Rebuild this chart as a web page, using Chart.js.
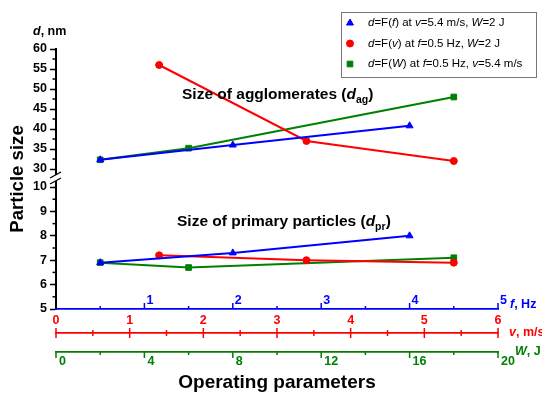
<!DOCTYPE html>
<html>
<head>
<meta charset="utf-8">
<script src="https://cdn.jsdelivr.net/npm/chart.js@4.4.0/dist/chart.umd.min.js"></script>
<style>
  html, body { margin: 0; padding: 0; background: #fff; }
  #wrap { width: 542px; height: 394px; }
</style>
</head>
<body>
<div id="wrap"><canvas id="chart" width="542" height="394"></canvas></div>
<script>
// Particle size (agglomerates / primary particles) vs operating parameters f, v, W

// blue: d = F(f) at v = 5.4 m/s, W = 2 J
const fValues = [0.5, 2, 4];
const dAgF = [32.3, 36, 40.8];
const dPrF = [6.9, 7.3, 8.0];

// red: d = F(v) at f = 0.5 Hz, W = 2 J
const vValues = [1.4, 3.4, 5.4];
const dAgV = [56, 37, 32];
const dPrV = [7.2, 7.0, 6.9];

// green: d = F(W) at f = 0.5 Hz, v = 5.4 m/s
const wValues = [2, 6, 18];
const dAgW = [32.3, 35.2, 48];
const dPrW = [6.9, 6.7, 7.1];

// axis ticks (major labelled, minor unlabelled)
const yTopTicks = [30, 35, 40, 45, 50, 55, 60];
const yTopMinor = [32.5, 37.5, 42.5, 47.5, 52.5, 57.5];
const yBotTicks = [5, 6, 7, 8, 9, 10];
const yBotMinor = [5.5, 6.5, 7.5, 8.5, 9.5];
const fTicks = [1, 2, 3, 4, 5];
const fMinor = [0.5, 1.5, 2.5, 3.5, 4.5];
const vTicks = [0, 1, 2, 3, 4, 5, 6];
const vMinor = [0.5, 1.5, 2.5, 3.5, 4.5, 5.5];
const wTicks = [0, 4, 8, 12, 16, 20];
const wMinor = [2, 6, 10, 14, 18];

// legend rows, [text, italic]
const legendRows = [
    [['d', 1], ['=F(', 0], ['f', 1], [') at ', 0], ['v', 1], ['=5.4 m/s, ', 0], ['W', 1], ['=2 J', 0]],
    [['d', 1], ['=F(', 0], ['v', 1], [') at ', 0], ['f', 1], ['=0.5 Hz, ', 0], ['W', 1], ['=2 J', 0]],
    [['d', 1], ['=F(', 0], ['W', 1], [') at ', 0], ['f', 1], ['=0.5 Hz, ', 0], ['v', 1], ['=5.4 m/s', 0]]
];

const FONT = '"Liberation Sans", Arial, Helvetica, sans-serif';
const BLUE = '#0000ff';
const RED = '#ff0000';
const GREEN = '#008000';

const pts = (xs, ys) => xs.map((x, i) => ({ x, y: ys[i] }));

function series(label, data, xAxisID, yAxisID, color, pointStyle, radius) {
    return {
        label,
        data,
        xAxisID,
        yAxisID,
        borderColor: color,
        backgroundColor: color,
        borderWidth: 2,
        pointStyle,
        pointRadius: radius,
        pointBorderWidth: 1,
        tension: 0,
        fill: false
    };
}

const tickFont = { family: FONT, size: 12.5, weight: 'bold' };
const setTicks = list => scale => { scale.ticks = list.map(v => ({ value: v })); };

/**
 * Draw text made of plain / italic / subscript pieces
 */
function drawRich(ctx, x, y, parts, size, color, bold) {
    ctx.save();
    ctx.fillStyle = color;
    ctx.textBaseline = 'middle';
    ctx.textAlign = 'left';
    const w = bold ? 'bold ' : '';
    parts.forEach(([text, style]) => {
        let dy = 0;
        if (style === 'sub') {
            ctx.font = `${w}${size * 0.68}px ${FONT}`;
            dy = size * 0.3;
        } else if (style) {
            ctx.font = `italic ${w}${size}px ${FONT}`;
        } else {
            ctx.font = `${w}${size}px ${FONT}`;
        }
        ctx.fillText(text, x, y + dy);
        x += ctx.measureText(text).width;
    });
    ctx.restore();
}

function tickLine(ctx, x1, y1, x2, y2) {
    ctx.beginPath();
    ctx.moveTo(x1, y1);
    ctx.lineTo(x2, y2);
    ctx.stroke();
}

// minor y ticks, x-axis tick marks, axis break, labels and legend
const decorations = {
    id: 'decorations',
    afterDraw(chart) {
        const ctx = chart.ctx;
        const area = chart.chartArea;
        const s = chart.scales;

        ctx.save();
        ctx.lineWidth = 1.5;

        // minor ticks on the y axes
        ctx.strokeStyle = '#000';
        [[s.yTop, yTopMinor], [s.yBot, yBotMinor]].forEach(([scale, list]) => {
            list.forEach(v => {
                const y = scale.getPixelForValue(v);
                tickLine(ctx, scale.right - 3.5, y, scale.right, y);
            });
        });

        // f axis: ticks pointing up
        ctx.strokeStyle = BLUE;
        fTicks.forEach(v => { const x = s.xf.getPixelForValue(v); tickLine(ctx, x, s.xf.top, x, s.xf.top - 6); });
        fMinor.forEach(v => { const x = s.xf.getPixelForValue(v); tickLine(ctx, x, s.xf.top, x, s.xf.top - 3); });

        // v axis: ticks crossing the line
        ctx.strokeStyle = RED;
        vTicks.forEach(v => { const x = s.xv.getPixelForValue(v); tickLine(ctx, x, s.xv.top - 5, x, s.xv.top + 5); });
        vMinor.forEach(v => { const x = s.xv.getPixelForValue(v); tickLine(ctx, x, s.xv.top - 3, x, s.xv.top + 3); });

        // W axis: ticks pointing down
        ctx.strokeStyle = GREEN;
        wTicks.forEach(v => { const x = s.xw.getPixelForValue(v); tickLine(ctx, x, s.xw.top - 1, x, s.xw.top + 6); });
        wMinor.forEach(v => { const x = s.xw.getPixelForValue(v); tickLine(ctx, x, s.xw.top, x, s.xw.top + 3); });

        // axis break between the two y scales
        const bx = s.yTop.right;
        const by = s.yTop.bottom;
        ctx.fillStyle = '#fff';
        ctx.fillRect(bx - 2, by - 3, 4, 6);
        ctx.strokeStyle = '#000';
        ctx.lineWidth = 1.3;
        tickLine(ctx, bx - 6, by, bx + 5, by - 6);
        tickLine(ctx, bx - 6, by + 6, bx + 5, by);
        ctx.restore();

        // y axis title and unit
        ctx.save();
        ctx.translate(18, (area.top + area.bottom) / 2);
        ctx.rotate(-Math.PI / 2);
        ctx.font = `bold 18.6px ${FONT}`;
        ctx.fillStyle = '#000';
        ctx.textAlign = 'center';
        ctx.textBaseline = 'middle';
        ctx.fillText('Particle size', 0, 0);
        ctx.restore();
        drawRich(ctx, 33, area.top - 17, [['d', 'i'], [', nm', '']], 12.5, '#000', true);

        // x axis units
        drawRich(ctx, area.right + 12, s.xf.top - 4, [['f', 'i'], [', Hz', '']], 12.5, BLUE, true);
        drawRich(ctx, area.right + 11, s.xv.top, [['v', 'i'], [', m/s', '']], 12.5, RED, true);
        drawRich(ctx, area.right + 17, s.xw.top, [['W', 'i'], [', J', '']], 12.5, GREEN, true);

        // group captions
        drawRich(ctx, 182, 95, [['Size of agglomerates (', ''], ['d', 'i'], ['ag', 'sub'], [')', '']], 15.5, '#000', true);
        drawRich(ctx, 177, 222, [['Size of primary particles (', ''], ['d', 'i'], ['pr', 'sub'], [')', '']], 15.5, '#000', true);

        // legend box
        ctx.save();
        ctx.fillStyle = '#fff';
        ctx.fillRect(341.5, 12.5, 195, 65);
        ctx.strokeStyle = '#777';
        ctx.lineWidth = 1;
        ctx.strokeRect(341.5, 12.5, 195, 65);
        const marks = [[BLUE, 'triangle', 4], [RED, 'circle', 3.5], [GREEN, 'rect', 4]];
        const rowY = [23, 43.5, 64];
        marks.forEach(([color, style, r], i) => {
            ctx.fillStyle = color;
            ctx.strokeStyle = color;
            ctx.lineWidth = 1;
            Chart.helpers.drawPoint(ctx, { pointStyle: style, radius: r, borderWidth: 1, rotation: 0 }, 350, rowY[i]);
            drawRich(ctx, 368, rowY[i], legendRows[i].map(([t, it]) => [t, it ? 'i' : '']), 11.5, '#000', false);
        });
        ctx.restore();
    }
};

new Chart(document.getElementById('chart'), {
    type: 'line',
    data: {
        datasets: [
            series('d=F(f) ag', pts(fValues, dAgF), 'xf', 'yTop', BLUE, 'triangle', 4),
            series('d=F(v) ag', pts(vValues, dAgV), 'xv', 'yTop', RED, 'circle', 3.5),
            series('d=F(W) ag', pts(wValues, dAgW), 'xw', 'yTop', GREEN, 'rect', 4),
            series('d=F(f) pr', pts(fValues, dPrF), 'xf', 'yBot', BLUE, 'triangle', 4),
            series('d=F(v) pr', pts(vValues, dPrV), 'xv', 'yBot', RED, 'circle', 3.5),
            series('d=F(W) pr', pts(wValues, dPrW), 'xw', 'yBot', GREEN, 'rect', 4)
        ]
    },
    options: {
        responsive: false,
        animation: false,
        layout: { padding: { top: 49, right: 44, left: 0, bottom: 0 } },
        plugins: {
            legend: { display: false },
            tooltip: { enabled: false }
        },
        scales: {
            yBot: {
                type: 'linear',
                position: 'left',
                stack: 'y',
                stackWeight: 131,
                weight: 1,
                min: 5,
                max: 10.37,
                afterBuildTicks: setTicks(yBotTicks),
                afterFit: scale => { scale.width = 56; },
                ticks: { font: tickFont, color: '#000', padding: 3, autoSkip: false },
                grid: { display: true, drawOnChartArea: false, drawTicks: true, tickLength: 6, color: '#000', tickWidth: 1.5 },
                border: { color: '#000', width: 2 }
            },
            yTop: {
                type: 'linear',
                position: 'left',
                stack: 'y',
                stackWeight: 129,
                weight: 2,
                min: 27.75,
                max: 60,
                afterBuildTicks: setTicks(yTopTicks),
                afterFit: scale => { scale.width = 56; },
                ticks: { font: tickFont, color: '#000', padding: 3, autoSkip: false },
                grid: { display: true, drawOnChartArea: false, drawTicks: true, tickLength: 6, color: '#000', tickWidth: 1.5 },
                border: { color: '#000', width: 2 }
            },
            xf: {
                type: 'linear',
                position: 'bottom',
                weight: 1,
                min: 0,
                max: 5,
                afterBuildTicks: setTicks(fTicks),
                afterFit: scale => { scale.height = 24; },
                ticks: { font: tickFont, color: BLUE, mirror: true, align: 'start', labelOffset: 2, padding: 1, maxRotation: 0, autoSkip: false },
                grid: { display: false, drawTicks: false },
                border: { color: BLUE, width: 1.8 }
            },
            xv: {
                type: 'linear',
                position: 'bottom',
                weight: 2,
                min: 0,
                max: 6,
                afterBuildTicks: setTicks(vTicks),
                afterFit: scale => { scale.height = 19; },
                ticks: { font: tickFont, color: RED, mirror: true, padding: 5, maxRotation: 0, autoSkip: false },
                grid: { display: false, drawTicks: false },
                border: { color: RED, width: 1.8 }
            },
            xw: {
                type: 'linear',
                position: 'bottom',
                weight: 3,
                min: 0,
                max: 20,
                afterBuildTicks: setTicks(wTicks),
                afterFit: scale => { scale.height = 42; },
                ticks: { font: tickFont, color: GREEN, align: 'start', labelOffset: 3, padding: 2, maxRotation: 0, autoSkip: false },
                grid: { display: false, drawTicks: false },
                border: { color: GREEN, width: 1.8 },
                title: {
                    display: true,
                    text: 'Operating parameters',
                    color: '#000',
                    font: { family: FONT, size: 19, weight: 'bold' },
                    padding: { top: 0, bottom: 0 }
                }
            }
        }
    },
    plugins: [decorations]
});
</script>
</body>
</html>
